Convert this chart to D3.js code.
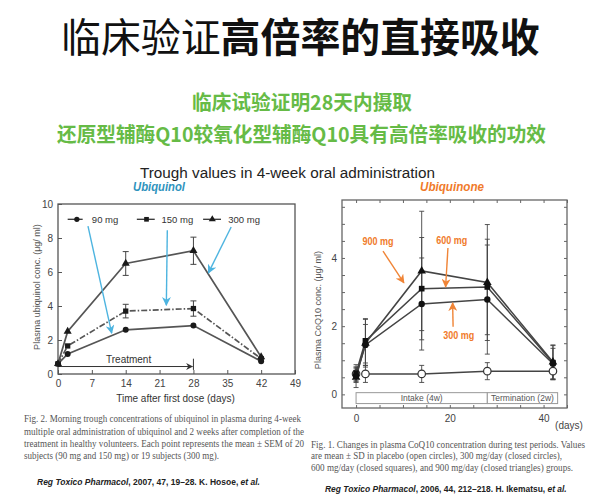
<!DOCTYPE html>
<html><head><meta charset="utf-8">
<script src="https://cdn.jsdelivr.net/npm/d3@7"></script>
<style>html,body{margin:0;padding:0;background:#fff;}svg{display:block;}</style>
</head><body>
<script>
// ---------- data ----------
const leftDays = [0, 2, 14, 28, 42];
const ubq90 = [0.6, 1.18, 2.6, 2.85, 0.75];
const ubq150 = [0.6, 1.65, 3.7, 3.85, 0.9];
const ubq300 = [0.6, 2.5, 6.5, 7.25, 1.0];
const sem90 = [0, 0.1, 0.12, 0.12, 0.08];
const sem150 = [0, 0.15, 0.4, 0.45, 0.1];
const sem300 = [0, 0.2, 0.7, 0.8, 0.12];
const leftXTicks = [0, 7, 14, 21, 28, 35, 42, 49];
const leftYTicks = [0, 2, 4, 6, 8, 10];
const leftLegend = ["90 mg", "150 mg", "300 mg"];

const rightDays = [0, 2, 14, 28, 42];
const placebo = [0.6, 0.6, 0.6, 0.68, 0.68];
const q300 = [0.55, 1.45, 2.65, 2.78, 0.9];
const q600 = [0.62, 1.57, 3.1, 3.15, 0.93];
const q900 = [0.5, 1.5, 3.62, 3.28, 0.95];
const sdPlacebo = [0.2, 0.25, 0.25, 0.25, 0.25];
const sd300 = [0.2, 0.6, 1.35, 1.6, 0.45];
const sd600 = [0.25, 0.65, 1.5, 1.4, 0.5];
const sd900 = [0.3, 0.7, 1.75, 1.7, 0.5];
const rightXTicks = [0, 5, 10, 15, 20, 25, 30, 35, 40, 45];
const rightXLabels = [0, 20, 40];
const rightYTicks = [0, 0.5, 1, 1.5, 2, 2.5, 3, 3.5, 4, 4.5, 5, 5.5];
const rightYLabels = [0, 2, 4];
const doseLabels = ["900 mg", "600 mg", "300 mg"];

// ---------- setup ----------
const W = 600, H = 503;
const svg = d3.select("body").append("svg").attr("width", W).attr("height", H);
svg.append("rect").attr("width", W).attr("height", H).attr("fill", "#fff");
const defs = svg.append("defs");
function arrowMarker(id, color, size) {
  defs.append("marker").attr("id", id).attr("viewBox", "0 0 10 10")
    .attr("refX", 9).attr("refY", 5).attr("markerWidth", size).attr("markerHeight", size)
    .attr("orient", "auto").attr("markerUnits", "userSpaceOnUse")
    .append("path").attr("d", "M0,0 L10,5 L0,10 L3,5 Z").attr("fill", color);
}
arrowMarker("blueArrow", "#4db4e0", 9);
arrowMarker("orangeArrow", "#f08436", 9);
arrowMarker("blackArrow", "#333", 7);

const CJK = "'Noto Sans CJK SC', sans-serif";
const SANS = "'Liberation Sans', Arial, sans-serif";
const SERIF = "'Liberation Serif', 'Times New Roman', serif";

function txt(x, y, s, o) {
  o = o || {};
  const t = svg.append("text").attr("x", x).attr("y", y)
    .attr("font-family", o.ff || SANS).attr("font-size", o.fs || 10)
    .attr("fill", o.fill || "#222").attr("text-anchor", o.anchor || "start")
    .attr("dominant-baseline", "central");
  if (o.fw) t.attr("font-weight", o.fw);
  if (o.fst) t.attr("font-style", o.fst);
  if (o.len) t.attr("textLength", o.len).attr("lengthAdjust", "spacingAndGlyphs");
  if (o.rot) t.attr("transform", `rotate(${o.rot},${x},${y})`);
  t.text(s);
  return t;
}
// mixed-style text fitted to a width by scaling the group
function fitted(x, y, len, parts, base) {
  const g = svg.append("g");
  const t = g.append("text").attr("x", 0).attr("y", 0)
    .attr("font-family", base.ff).attr("font-size", base.fs).attr("fill", base.fill)
    .attr("dominant-baseline", "central");
  parts.forEach(p => {
    const s = t.append("tspan").text(p.t);
    if (p.fw) s.attr("font-weight", p.fw);
    if (p.fst) s.attr("font-style", p.fst);
  });
  const w = t.node().getComputedTextLength() || len;
  g.attr("transform", `translate(${x},${y}) scale(${len / w},1)`);
}

// ---------- header ----------
fitted(61, 35, 479, [{t: "临床验证", fw: 400}, {t: "高倍率的直接吸收", fw: 700}], {ff: CJK, fs: 40, fill: "#111"});

txt(302, 101, "临床试验证明28天内摄取", {ff: CJK, fs: 20, fw: 700, fill: "#66bb46", anchor: "middle", len: 220});
txt(57, 133, "还原型辅酶Q10较氧化型辅酶Q10具有高倍率吸收的功效", {ff: CJK, fs: 20, fw: 700, fill: "#66bb46", len: 489});

txt(140, 172.5, "Trough values in 4-week oral administration", {fs: 15.5, fill: "#222", len: 295});
txt(133, 187, "Ubiquinol", {fs: 12, fw: 700, fst: "italic", fill: "#2f93bd", len: 52});
txt(420, 187, "Ubiquinone", {fs: 12.5, fw: 700, fst: "italic", fill: "#f07a2a", len: 64});

// ---------- left chart ----------
const xL = d3.scaleLinear().domain([0, 49]).range([58, 295]);
const yL = d3.scaleLinear().domain([0, 10]).range([374, 204]);
const gL = svg.append("g");
gL.append("rect").attr("x", xL(0)).attr("y", yL(10)).attr("width", xL(49) - xL(0)).attr("height", yL(0) - yL(10))
  .attr("fill", "none").attr("stroke", "#555").attr("stroke-width", 1.3);
const axL = gL.append("g").attr("transform", `translate(0,${yL(0)})`)
  .call(d3.axisBottom(xL).tickValues(leftXTicks).tickSize(-4).tickPadding(6));
const ayL = gL.append("g").attr("transform", `translate(${xL(0)},0)`)
  .call(d3.axisLeft(yL).tickValues(leftYTicks).tickSize(-4).tickPadding(5));
[axL, ayL].forEach(a => {
  a.select(".domain").remove();
  a.selectAll("line").attr("stroke", "#555");
  a.selectAll("text").attr("font-family", SANS).attr("font-size", 10).attr("fill", "#444");
});
txt(175.5, 398.5, "Time after first dose (days)", {fs: 10, fill: "#333", anchor: "middle"});
txt(37, 287, "Plasma ubiquinol conc. (\u03bcg/ ml)", {fs: 9, fill: "#555", anchor: "middle", rot: -90});

// treatment annotation
gL.append("line").attr("x1", xL(0)).attr("x2", xL(28) - 1).attr("y1", yL(0.44)).attr("y2", yL(0.44))
  .attr("stroke", "#333").attr("stroke-width", 1).attr("marker-end", "url(#blackArrow)");
gL.append("line").attr("x1", xL(28)).attr("x2", xL(28)).attr("y1", yL(0.24)).attr("y2", yL(0.9))
  .attr("stroke", "#333").attr("stroke-width", 1);
txt(xL(14.6), yL(0.88), "Treatment", {fs: 10, fill: "#333", anchor: "middle"});

const leftSeries = [
  {v: ubq90, e: sem90, shape: d3.symbolCircle, dash: null},
  {v: ubq150, e: sem150, shape: d3.symbolSquare, dash: "6,2,1.5,2"},
  {v: ubq300, e: sem300, shape: d3.symbolTriangle, dash: null}
];
const lineL = d3.line().x((d, i) => xL(leftDays[i])).y(d => yL(d));
leftSeries.forEach(s => {
  gL.append("path").attr("d", lineL(s.v)).attr("fill", "none").attr("stroke", "#555")
    .attr("stroke-width", 1.7).attr("stroke-dasharray", s.dash);
  s.v.forEach((d, i) => {
    if (s.e[i] > 0.25) {
      const x = xL(leftDays[i]);
      gL.append("line").attr("x1", x).attr("x2", x).attr("y1", yL(d - s.e[i])).attr("y2", yL(d + s.e[i])).attr("stroke", "#444");
      [d - s.e[i], d + s.e[i]].forEach(v => gL.append("line").attr("x1", x - 3).attr("x2", x + 3).attr("y1", yL(v)).attr("y2", yL(v)).attr("stroke", "#444"));
    }
    gL.append("path").attr("d", d3.symbol().type(s.shape).size(28)())
      .attr("transform", `translate(${xL(leftDays[i])},${yL(d)})`).attr("fill", "#1a1a1a");
  });
});
// legend
const legPos = [[2, 5.1, 3.9, 7], [16.3, 20, 18.3, 21.4], [30, 33.7, 31.9, 35.2]];
leftLegend.forEach((name, k) => {
  const p = legPos[k], yy = yL(9.1);
  gL.append("line").attr("x1", xL(p[0])).attr("x2", xL(p[1])).attr("y1", yy).attr("y2", yy).attr("stroke", "#333").attr("stroke-width", 1.3);
  gL.append("path").attr("d", d3.symbol().type(leftSeries[k].shape).size(22)())
    .attr("transform", `translate(${xL(p[2])},${yy})`).attr("fill", "#1a1a1a");
  txt(xL(p[3]), yy, name, {fs: 9.5, fill: "#333"});
});
// blue arrows
const blueArrows = [[6.2, 8.7, 11.1, 2.4], [22.6, 8.45, 22.4, 4.05], [35.8, 8.65, 31.1, 5.95]];
blueArrows.forEach(a => gL.append("line").attr("x1", xL(a[0])).attr("y1", yL(a[1])).attr("x2", xL(a[2])).attr("y2", yL(a[3]))
  .attr("stroke", "#4db4e0").attr("stroke-width", 1.4).attr("marker-end", "url(#blueArrow)"));

// ---------- right chart ----------
const xR = d3.scaleLinear().domain([-3, 45]).range([342, 567]);
const yR = d3.scaleLinear().domain([-0.4, 5.7]).range([408, 200]);
const gR = svg.append("g");
gR.append("rect").attr("x", xR(-3)).attr("y", yR(5.7)).attr("width", xR(45) - xR(-3)).attr("height", yR(-0.4) - yR(5.7))
  .attr("fill", "none").attr("stroke", "#666").attr("stroke-width", 1.3);
function styleAx(a) {
  a.select(".domain").remove();
  a.selectAll("line").attr("stroke", "#666");
  a.selectAll("text").attr("font-family", SANS).attr("font-size", 10).attr("fill", "#444");
}
const fmtX = d => rightXLabels.includes(d) ? d : "";
const fmtY = d => rightYLabels.includes(d) ? d : "";
styleAx(gR.append("g").attr("transform", `translate(0,${yR(-0.4)})`).call(d3.axisBottom(xR).tickValues(rightXTicks).tickSize(-3).tickPadding(7).tickFormat(fmtX)));
styleAx(gR.append("g").attr("transform", `translate(0,${yR(5.7)})`).call(d3.axisTop(xR).tickValues(rightXTicks).tickSize(-3).tickFormat("")));
styleAx(gR.append("g").attr("transform", `translate(${xR(-3)},0)`).call(d3.axisLeft(yR).tickValues(rightYTicks).tickSize(-3).tickPadding(5).tickFormat(fmtY)));
styleAx(gR.append("g").attr("transform", `translate(${xR(45)},0)`).call(d3.axisRight(yR).tickValues(rightYTicks).tickSize(-3).tickFormat("")));
txt(569, 425, "(days)", {fs: 10, fill: "#444", anchor: "middle"});
txt(318, 310, "Plasma CoQ10 conc. (\u03bcg/ ml)", {fs: 9, fill: "#555", anchor: "middle", rot: -90});

// intake / termination boxes
[[0, 28, "Intake (4w)"], [28, 43, "Termination (2w)"]].forEach(b => {
  gR.append("rect").attr("x", xR(b[0])).attr("y", yR(0.05)).attr("width", xR(b[1]) - xR(b[0])).attr("height", yR(-0.27) - yR(0.05))
    .attr("fill", "#fff").attr("stroke", "#999").attr("stroke-width", 1);
  txt((xR(b[0]) + xR(b[1])) / 2, (yR(0.05) + yR(-0.27)) / 2, b[2], {fs: 8.5, fill: "#555", anchor: "middle"});
});

const rightSeries = [
  {v: placebo, e: sdPlacebo, shape: d3.symbolCircle, open: true},
  {v: q300, e: sd300, shape: d3.symbolCircle},
  {v: q600, e: sd600, shape: d3.symbolSquare},
  {v: q900, e: sd900, shape: d3.symbolTriangle}
];
rightSeries.forEach(s => {
  s.v.forEach((d, i) => {
    const x = xR(rightDays[i]);
    gR.append("line").attr("x1", x).attr("x2", x).attr("y1", yR(d - s.e[i])).attr("y2", yR(d + s.e[i])).attr("stroke", "#444").attr("stroke-width", 0.9);
    [d - s.e[i], d + s.e[i]].forEach(v => gR.append("line").attr("x1", x - 2.5).attr("x2", x + 2.5).attr("y1", yR(v)).attr("y2", yR(v)).attr("stroke", "#444").attr("stroke-width", 0.9));
  });
});
rightSeries.forEach(s => {
  const pts = s.open ? s.v.slice(1) : s.v;
  const days = s.open ? rightDays.slice(1) : rightDays;
  gR.append("path").attr("d", d3.line().x((d, i) => xR(days[i])).y(d => yR(d))(pts))
    .attr("fill", "none").attr("stroke", "#444").attr("stroke-width", 1.5);
});
rightSeries.forEach(s => {
  s.v.forEach((d, i) => {
    const m = gR.append("path").attr("d", d3.symbol().type(s.shape).size(s.open ? 44 : 32)())
      .attr("transform", `translate(${xR(rightDays[i])},${yR(d)})`);
    if (s.open) m.attr("fill", "#fff").attr("stroke", "#333").attr("stroke-width", 1.2);
    else m.attr("fill", "#111");
  });
});
// orange labels & arrows
const doseLabelPos = [[4.7, 4.47], [20.4, 4.5], [21.9, 1.72]];
const orangeArrows = [[5.75, 4.2, 10.2, 3.27], [19.6, 4.29, 19.1, 3.15], [20.7, 1.98, 20.6, 2.68]];
doseLabels.forEach((name, k) => {
  txt(xR(doseLabelPos[k][0]), yR(doseLabelPos[k][1]), name, {fs: 10, fw: 700, fill: "#f07a2a", anchor: "middle", len: 31});
  const a = orangeArrows[k];
  gR.append("line").attr("x1", xR(a[0])).attr("y1", yR(a[1])).attr("x2", xR(a[2])).attr("y2", yR(a[3]))
    .attr("stroke", "#f08436").attr("stroke-width", 1.4).attr("marker-end", "url(#orangeArrow)");
});

// ---------- captions ----------
const capL = [
  ["Fig. 2. Morning trough concentrations of ubiquinol in plasma during 4-week", 277],
  ["multiple oral administration of ubiquinol and 2 weeks after completion of the", 280],
  ["treatment in healthy volunteers. Each point represents the mean \u00b1 SEM of 20", 280],
  ["subjects (90 mg and 150 mg) or 19 subjects (300 mg).", 195]
];
const capLY = [419, 431.5, 443.5, 456];
capL.forEach((c, i) => txt(24, capLY[i], c[0], {ff: SERIF, fs: 9.5, fill: "#555", len: c[1]}));
const capR = [
  ["Fig. 1. Changes in plasma CoQ10 concentration during test periods. Values", 274],
  ["are mean \u00b1 SD in placebo (open circles), 300 mg/day (closed circles),", 251],
  ["600 mg/day (closed squares), and 900 mg/day (closed triangles) groups.", 262]
];
const capRY = [444.5, 456, 468];
capR.forEach((c, i) => txt(311, capRY[i], c[0], {ff: SERIF, fs: 9.5, fill: "#555", len: c[1]}));

const citeBase = {ff: SANS, fs: 9, fill: "#222"};
fitted(37, 482, 223, [{t: "Reg Toxico Pharmacol", fw: 700, fst: "italic"}, {t: ", 2007, 47, 19\u201328. K. Hosoe, ", fw: 700}, {t: "et al.", fw: 700, fst: "italic"}], citeBase);
fitted(325, 489, 242, [{t: "Reg Toxico Pharmacol", fw: 700, fst: "italic"}, {t: ", 2006, 44, 212\u2013218. H. Ikematsu, ", fw: 700}, {t: "et al.", fw: 700, fst: "italic"}], citeBase);
</script>
</body></html>
